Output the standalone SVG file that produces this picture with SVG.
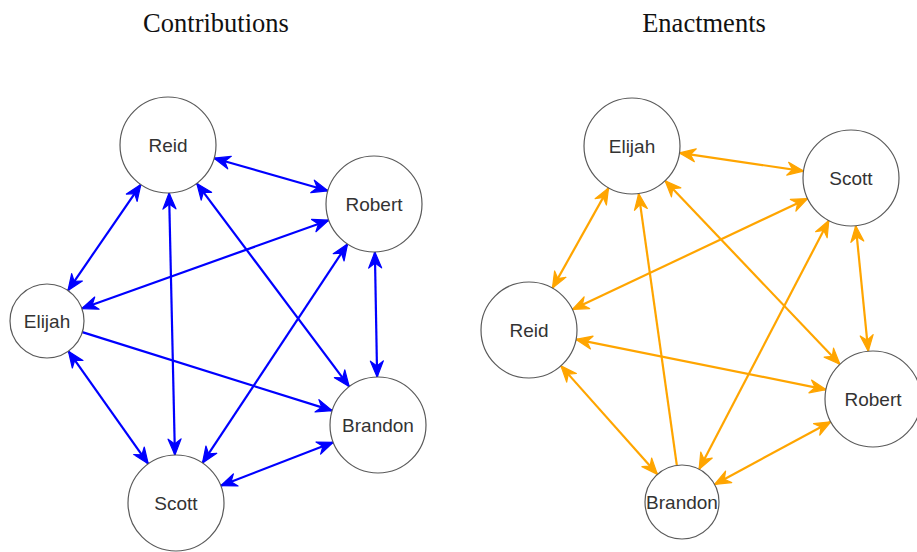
<svg xmlns="http://www.w3.org/2000/svg" width="917" height="552" viewBox="0 0 917 552">
  <style>
    .title { font-family: "Liberation Serif", "Times New Roman", serif; font-size: 26.5px; fill: #111; text-anchor: middle; }
    .node circle { fill: #fff; stroke: #5a5a5a; stroke-width: 1.2; }
    .node text { font-family: "Liberation Sans", Arial, sans-serif; font-size: 19px; fill: #333; text-anchor: middle; }
    .blue line { stroke: #0000ff; stroke-width: 2.2; fill: none; }
    .orange line { stroke: #ffa500; stroke-width: 2.2; fill: none; }
    .blue .both { marker-start: url(#headBlue); marker-end: url(#headBlue); }
    .blue .one { marker-end: url(#headBlue); }
    .orange .both { marker-start: url(#headOrange); marker-end: url(#headOrange); }
    .orange .one { marker-end: url(#headOrange); }
  </style>
  <defs>
    <marker id="headBlue" markerUnits="userSpaceOnUse" orient="auto-start-reverse" refX="0" refY="0" markerWidth="40" markerHeight="40" viewBox="-20 -20 40 40" overflow="visible">
      <path d="M0,0 L-16,-6.5 L-11,0 L-16,6.5 Z" fill="#0000ff" stroke="#0000ff" stroke-width="1.2" stroke-linejoin="round"/>
    </marker>
    <marker id="headOrange" markerUnits="userSpaceOnUse" orient="auto-start-reverse" refX="0" refY="0" markerWidth="40" markerHeight="40" viewBox="-20 -20 40 40" overflow="visible">
      <path d="M0,0 L-16,-6.5 L-11,0 L-16,6.5 Z" fill="#ffa500" stroke="#ffa500" stroke-width="1.2" stroke-linejoin="round"/>
    </marker>
  </defs>

  <rect width="917" height="552" fill="#fff"/>

  <text class="title" x="216" y="32">Contributions</text>
  <text class="title" x="704" y="32">Enactments</text>

  <!-- Contributions network edges -->
  <g id="contributions-edges" class="blue">
    <line class="both" x1="214.14" y1="158.22" x2="327.86" y2="190.78"/>
    <line class="both" x1="140.81" y1="184.55" x2="67.96" y2="290.51"/>
    <line class="both" x1="169.07" y1="192.99" x2="174.93" y2="455.01"/>
    <line class="both" x1="196.8" y1="183.4" x2="349.2" y2="386.6"/>
    <line class="both" x1="328.81" y1="220.17" x2="81.84" y2="308.53"/>
    <line class="both" x1="347.5" y1="244.02" x2="202.5" y2="462.98"/>
    <line class="both" x1="374.87" y1="251.99" x2="377.13" y2="377.01"/>
    <line class="one" x1="82.3" y1="332.09" x2="332.21" y2="410.61"/>
    <line class="both" x1="68.4" y1="351.19" x2="148.24" y2="463.84"/>
    <line class="both" x1="220.78" y1="485.71" x2="333.22" y2="442.29"/>
  </g>

  <!-- Contributions network nodes -->
  <g id="c-reid" class="node"><circle cx="168" cy="145" r="48"/><text x="168" y="151.5">Reid</text></g>
  <g id="c-robert" class="node"><circle cx="374" cy="204" r="48"/><text x="374" y="210.5">Robert</text></g>
  <g id="c-elijah" class="node"><circle cx="47" cy="321" r="37"/><text x="47" y="327.5">Elijah</text></g>
  <g id="c-brandon" class="node"><circle cx="378" cy="425" r="48"/><text x="378" y="431.5">Brandon</text></g>
  <g id="c-scott" class="node"><circle cx="176" cy="503" r="48"/><text x="176" y="509.5">Scott</text></g>

  <!-- Enactments network edges -->
  <g id="enactments-edges" class="orange">
    <line class="both" x1="679.5" y1="152.94" x2="803.5" y2="171.06"/>
    <line class="both" x1="608.55" y1="187.88" x2="552.45" y2="288.12"/>
    <line class="one" x1="676.85" y1="465.36" x2="638.68" y2="193.53"/>
    <line class="both" x1="665.11" y1="180.76" x2="839.89" y2="364.24"/>
    <line class="both" x1="807.59" y1="198.49" x2="572.41" y2="309.51"/>
    <line class="both" x1="828.8" y1="220.56" x2="699.11" y2="469.2"/>
    <line class="both" x1="855.76" y1="225.76" x2="868.24" y2="351.24"/>
    <line class="both" x1="576.06" y1="339.44" x2="825.94" y2="389.56"/>
    <line class="both" x1="560.9" y1="365.87" x2="657.41" y2="474.35"/>
    <line class="both" x1="830.75" y1="421.78" x2="714.57" y2="484.44"/>
  </g>

  <!-- Enactments network nodes -->
  <g id="e-elijah" class="node"><circle cx="632" cy="146" r="48"/><text x="632" y="152.5">Elijah</text></g>
  <g id="e-scott" class="node"><circle cx="851" cy="178" r="48"/><text x="851" y="184.5">Scott</text></g>
  <g id="e-reid" class="node"><circle cx="529" cy="330" r="48"/><text x="529" y="336.5">Reid</text></g>
  <g id="e-robert" class="node"><circle cx="873" cy="399" r="48"/><text x="873" y="405.5">Robert</text></g>
  <g id="e-brandon" class="node"><circle cx="682" cy="502" r="37"/><text x="682" y="508.5">Brandon</text></g>
</svg>
